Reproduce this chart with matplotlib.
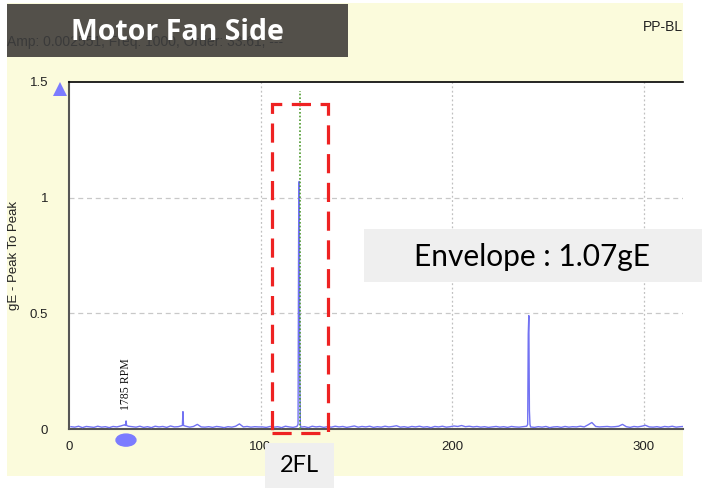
import numpy as np
import matplotlib
matplotlib.use("Agg")
import matplotlib.pyplot as plt
from matplotlib.patches import Rectangle, Ellipse

# ---------------- data ----------------
noise_freq_start, noise_freq_step = 1, 2
noise_amp = [
    0.010, 0.008, 0.012, 0.006, 0.011, 0.009, 0.007, 0.012, 0.008, 0.010,
    0.006, 0.011, 0.009, 0.013, 0.018, 0.012, 0.010, 0.008, 0.012, 0.007,
    0.010, 0.006, 0.012, 0.009, 0.011, 0.007, 0.013, 0.009, 0.010, 0.015,
    0.012, 0.008, 0.011, 0.020, 0.009, 0.008, 0.010, 0.007, 0.011, 0.009,
    0.006, 0.010, 0.008, 0.012, 0.022, 0.009, 0.011, 0.008, 0.010, 0.009,
    0.009, 0.007, 0.011, 0.008, 0.010, 0.006, 0.012, 0.009, 0.007, 0.011,
    0.008, 0.010, 0.006, 0.012, 0.009, 0.011, 0.007, 0.010, 0.008, 0.012,
    0.009, 0.011, 0.007, 0.010, 0.013, 0.008, 0.011, 0.009, 0.012, 0.007,
    0.010, 0.008, 0.012, 0.009, 0.011, 0.014, 0.008, 0.010, 0.007, 0.011,
    0.009, 0.012, 0.008, 0.010, 0.006, 0.011, 0.009, 0.012, 0.008, 0.010,
    0.013, 0.011, 0.015, 0.010, 0.012, 0.009, 0.011, 0.008, 0.010, 0.007,
    0.009, 0.011, 0.008, 0.010, 0.007, 0.011, 0.009, 0.008, 0.010, 0.012,
    0.009, 0.007, 0.010, 0.008, 0.011, 0.006, 0.009, 0.010, 0.007, 0.011,
    0.008, 0.010, 0.009, 0.012, 0.009, 0.018, 0.028, 0.011, 0.009, 0.010,
    0.011, 0.009, 0.010, 0.012, 0.020, 0.010, 0.007, 0.011, 0.009, 0.012,
    0.016, 0.009, 0.008, 0.010, 0.007, 0.011, 0.009, 0.012, 0.008, 0.010,
    0.011,
]
peak_freq = [29.5, 29.8, 30.1,
             59.2, 59.5, 59.8,
             119.6, 119.9, 120.2, 120.5, 120.8,
             239.5, 239.8, 240.1, 240.4, 240.7]
peak_amp = [0.015, 0.035, 0.015,
            0.015, 0.075, 0.015,
            0.020, 0.85, 1.07, 0.23, 0.020,
            0.020, 0.41, 0.49, 0.08, 0.020]

rpm_freq = 29.75
rpm_label = "1785 RPM"
fl2_freq = 120.4
x_ticks = [0, 100, 200, 300]
y_ticks = [0, 0.5, 1, 1.5]
y_tick_labels = ["0", "0.5", "1", "1.5"]
x_max = 320.6
y_max = 1.5

# ---------------- figure ----------------
W, H = 718, 488
fig = plt.figure(figsize=(W / 100, H / 100), dpi=100)
fig.patch.set_facecolor("white")

def fx(x):
    return x / W

def fy(y):
    return 1 - y / H

# yellow panel
fig.patches.append(Rectangle((fx(7), fy(476)), fx(683) - fx(7), fy(3) - fy(476),
                             transform=fig.transFigure, facecolor="#FBFBDC",
                             edgecolor="none", zorder=-5))

ax = fig.add_axes([fx(69), fy(429), fx(683) - fx(69), fy(82) - fy(429)])
ax.set_zorder(2)
ax.set_facecolor("white")

nf = noise_freq_start + noise_freq_step * np.arange(len(noise_amp))
freq = np.concatenate([nf, np.array(peak_freq)])
amp = np.concatenate([np.array(noise_amp), np.array(peak_amp)])
order = np.argsort(freq)
ax.plot(freq[order], amp[order], color="#7272F2", lw=1.0, zorder=3)

ax.set_xlim(0, x_max)
ax.set_ylim(0, y_max)
ax.set_xticks(x_ticks)
ax.set_yticks(y_ticks)
ax.set_yticklabels(y_tick_labels)
ax.tick_params(axis="both", length=0, labelsize=9.5, colors="#222222")
ax.tick_params(axis="y", pad=15)
ax.tick_params(axis="x", pad=9)
for lab in ax.get_xticklabels() + ax.get_yticklabels():
    lab.set_fontfamily("Liberation Sans")

for y in [0.5, 1.0]:
    ax.axhline(y, color="#C8C8C8", lw=0.9, ls=(0, (4, 3)), zorder=1)
for x in [100, 200, 300]:
    ax.axvline(x, color="#C0C0C0", lw=0.9, ls=(0, (1.5, 2)), zorder=1)

ax.spines["right"].set_visible(False)
ax.spines["top"].set_color("black")
ax.spines["top"].set_linewidth(1.2)
ax.spines["left"].set_color("#555555")
ax.spines["left"].set_linewidth(1.5)
ax.spines["bottom"].set_color("#555555")
ax.spines["bottom"].set_linewidth(1.5)

# 2FL marker line
ax.plot([fl2_freq, fl2_freq], [0, 1.46], color="#4E9A2E", lw=1.2,
        ls=(0, (1, 1.2)), zorder=4)

# red dashed box
ax.add_patch(Rectangle((106, -0.017), 135.2 - 106, 1.407 + 0.017, fill=False,
                       edgecolor="#EE2222", lw=2.3, ls=(0, (6, 3)),
                       clip_on=False, zorder=5))

# cursor markers
ax.plot([-4.7], [1.47], marker="^", ms=10, color="#7B7BFF", clip_on=False,
        zorder=6, markeredgewidth=0)
ax.add_patch(Ellipse((rpm_freq, -0.048), 10.4, 0.052, color="#7B7BFF",
                     clip_on=False, zorder=6))
ax.text(rpm_freq, 0.083, rpm_label, rotation=90, ha="center", va="bottom",
        fontsize=8.5, family="Liberation Serif", color="#111111")

# y label
fig.text(fx(14), fy(256), "gE - Peak To Peak", rotation=90, ha="center",
         va="center", fontsize=9.5, family="Liberation Sans", color="#222222")

# header
fig.patches.append(Rectangle((fx(7), fy(57)), fx(348) - fx(7), fy(4) - fy(57),
                             transform=fig.transFigure, facecolor="#53504A",
                             edgecolor="none", zorder=1))
fig.text(fx(7), fy(42), "Amp: 0.002551, Freq: 1000, Order: 33.61, ---",
         ha="left", va="center", fontsize=10, family="Liberation Sans",
         color="#3A3A3A", zorder=2)
fig.text(fx(177), fy(33), "Motor Fan Side", ha="center", va="center",
         fontsize=20.5, fontweight="bold", family="Open Sans", color="white",
         zorder=3)
fig.text(fx(683), fy(27), "PP-BL", ha="right", va="center", fontsize=10,
         family="Liberation Sans", color="#222222")

# envelope annotation box
fig.patches.append(Rectangle((fx(364), fy(282)), fx(702) - fx(364), fy(229) - fy(282),
                             transform=fig.transFigure, facecolor="#EFEFEF",
                             edgecolor="none", zorder=5))
fig.text(fx(532), fy(257), "Envelope : 1.07gE", ha="center", va="center",
         fontsize=21.5, family="Lato", color="black", zorder=6)

# 2FL label box
fig.patches.append(Rectangle((fx(265), fy(488)), fx(334) - fx(265), fy(443) - fy(488),
                             transform=fig.transFigure, facecolor="#EFEFEF",
                             edgecolor="none", zorder=5))
fig.text(fx(299), fy(466), "2FL", ha="center", va="center",
         fontsize=17, family="Lato", color="black", zorder=6)

fig.savefig("out.png", dpi=100)
